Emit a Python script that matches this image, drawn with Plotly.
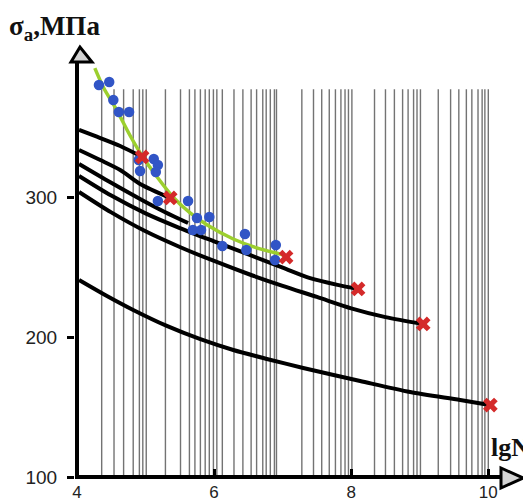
import plotly.graph_objects as go

# ---------------- data (lgN, sigma_a in MPa) ----------------
grid_lgN = [4.36, 4.54, 4.68, 4.82, 4.91, 4.96, 5.01,
            5.29, 5.51, 5.64, 5.72, 5.80, 5.87, 5.93, 5.99, 6.04, 6.12,
            6.29, 6.42, 6.54, 6.62, 6.71, 6.76, 6.82, 6.88, 6.91,
            7.28, 7.45, 7.57, 7.68, 7.77, 7.85, 7.91, 7.96, 8.01,
            8.34, 8.50, 8.63, 8.75, 8.83, 8.91, 8.96, 9.01,
            9.27, 9.45, 9.57, 9.68, 9.76, 9.85, 9.91, 9.95, 10.00]
grid_top = 377

curve1_lgN = [4.03, 4.34, 4.63, 4.95]
curve1_sig = [347.9, 342.1, 336.4, 328.6]
curve2_lgN = [4.03, 4.34, 4.63, 4.92, 5.36]
curve2_sig = [333.6, 326.4, 319.3, 309.3, 299.3]
curve3_lgN = [4.03, 4.48, 4.92, 5.28, 5.62]
curve3_sig = [323.6, 310.7, 298.6, 289.3, 281.4]
curve4_lgN = [4.03, 4.5, 5.0, 5.5, 6.0, 6.5, 7.0, 7.4, 7.8, 8.10]
curve4_sig = [315.0, 301.0, 288.3, 277.8, 268.3, 259.0, 249.5, 242.0, 237.2, 234.3]
curve5_lgN = [4.03, 4.5, 5.0, 5.5, 6.0, 6.5, 7.0, 7.5, 8.0, 8.5, 9.05]
curve5_sig = [303.6, 289.0, 275.5, 264.3, 254.3, 245.0, 236.5, 228.6, 220.5, 214.2, 209.3]
curve6_lgN = [4.03, 4.41, 4.82, 5.31, 5.79, 6.28, 6.77, 7.30, 8.13, 8.86, 9.59, 10.02]
curve6_sig = [240.7, 230.0, 219.3, 207.9, 198.6, 190.7, 184.3, 177.9, 168.6, 160.7, 155.0, 151.4]

fit_lgN = [4.26, 4.39, 4.58, 4.77, 4.96, 5.18, 5.40, 5.65, 5.90, 6.28, 6.67, 7.02]
fit_sig = [392.1, 377.9, 362.1, 344.3, 328.6, 313.6, 300.0, 288.6, 280.0, 270.0, 262.9, 258.6]

exp_lgN = [4.32, 4.47, 4.53, 4.61, 4.76, 4.90, 4.92, 5.12, 5.18, 5.15, 5.18,
           5.62, 5.75, 5.93, 5.69, 5.81, 6.12, 6.45, 6.47, 6.90, 6.89]
exp_sig = [380.0, 382.1, 369.3, 360.7, 360.7, 326.4, 318.6, 327.1, 322.9, 317.9, 297.1,
           297.1, 285.0, 285.7, 276.4, 276.4, 265.0, 273.6, 262.1, 265.7, 255.0]

end_lgN = [4.95, 5.36, 7.05, 8.10, 9.05, 10.03]
end_sig = [328.6, 299.3, 257.1, 234.3, 209.3, 151.4]

x_ticks = [4, 6, 8, 10]
y_ticks = [100, 200, 300]

# ---------------- layout geometry ----------------
OFF = 8                      # default page body margin in the browser
W, H = 531 - OFF, 501 - OFF
ML, MR, MT, MB = 75 - OFF, 0, 40 - OFF, 22
PW, PH = W - ML - MR, H - MT - MB
PX_X = 68.55   # px per lgN unit
PX_Y = 1.4     # px per MPa
x0 = 4 - 2 / PX_X
x1 = x0 + PW / PX_X
y0 = 100 - 2 / PX_Y
y1 = y0 + PH / PX_Y


def px(xp):
    """window pixel x -> paper x"""
    return (xp - OFF - ML) / PW


def py(yp):
    """window pixel y -> paper y"""
    return (H - MB - (yp - OFF)) / PH


fig = go.Figure()

# log-paper vertical lines
gx, gy = [], []
for g in grid_lgN:
    gx += [g, g, None]
    gy += [100, grid_top, None]
fig.add_trace(go.Scatter(x=gx, y=gy, mode="lines",
                         line=dict(color="rgba(90,90,90,0.85)", width=1.4),
                         hoverinfo="skip", showlegend=False))

for cx, cy in [(curve1_lgN, curve1_sig), (curve2_lgN, curve2_sig),
               (curve3_lgN, curve3_sig), (curve4_lgN, curve4_sig),
               (curve5_lgN, curve5_sig), (curve6_lgN, curve6_sig)]:
    fig.add_trace(go.Scatter(x=cx, y=cy, mode="lines",
                             line=dict(color="black", width=4, shape="spline", smoothing=0.8),
                             showlegend=False))

fig.add_trace(go.Scatter(x=fit_lgN, y=fit_sig, mode="lines",
                         line=dict(color="#9CCF2E", width=3.5, shape="spline", smoothing=0.8),
                         showlegend=False))

fig.add_trace(go.Scatter(x=exp_lgN, y=exp_sig, mode="markers",
                         marker=dict(color="#3155C6", size=10.5, line=dict(width=0)),
                         showlegend=False))

fig.add_trace(go.Scatter(x=end_lgN, y=end_sig, mode="markers",
                         marker=dict(symbol="x", color="#D42A2A", size=13, line=dict(width=0)),
                         showlegend=False))

shapes = [
    # axes lines
    dict(type="line", xref="x", yref="y", x0=4, y0=100, x1=10.19, y1=100,
         line=dict(color="black", width=4)),
    dict(type="line", xref="x", yref="y", x0=4, y0=y0, x1=4, y1=396.4,
         line=dict(color="black", width=4)),
    # arrow heads
    dict(type="path", xref="paper", yref="paper",
         path=f"M {px(80)},{py(47)} L {px(71)},{py(62)} L {px(92)},{py(62)} Z",
         fillcolor="#d4d4d4", line=dict(color="black", width=3)),
    dict(type="path", xref="paper", yref="paper",
         path=f"M {px(523)},{py(478)} L {px(501)},{py(468)} L {px(501)},{py(488)} Z",
         fillcolor="#d4d4d4", line=dict(color="black", width=3)),
]

annotations = [
    dict(xref="paper", yref="paper", x=px(7), y=py(8.5), xanchor="left", yanchor="top",
         text="<b>σ<sub>a</sub>,МПа</b>", showarrow=False,
         font=dict(family="Liberation Serif", size=27, color="#111")),
    dict(xref="paper", yref="paper", x=px(489), y=py(431), xanchor="left", yanchor="top",
         text="<b>lgN</b>", showarrow=False,
         font=dict(family="Liberation Serif", size=26, color="#111")),
]

fig.update_layout(
    template="none",
    width=W, height=H,
    margin=dict(l=ML, r=MR, t=MT, b=MB, pad=0, autoexpand=False),
    paper_bgcolor="white", plot_bgcolor="white",
    shapes=shapes, annotations=annotations,
    xaxis=dict(range=[x0, x1], showgrid=False, zeroline=False, showline=False,
               automargin=False,
               tickvals=x_ticks, ticktext=[str(v) for v in x_ticks],
               ticks="inside", ticklen=10, tickwidth=3, tickcolor="black",
               ticklabelstandoff=1,
               tickfont=dict(family="Liberation Sans", size=17, color="#222")),
    yaxis=dict(range=[y0, y1], showgrid=False, zeroline=False, showline=False,
               automargin=False,
               tickvals=y_ticks, ticktext=[str(v) for v in y_ticks],
               ticks="outside", ticklen=7, tickwidth=3, tickcolor="black",
               ticklabelstandoff=6,
               tickfont=dict(family="Liberation Sans", size=19, color="#222")),
)

fig.write_html("out.html")
